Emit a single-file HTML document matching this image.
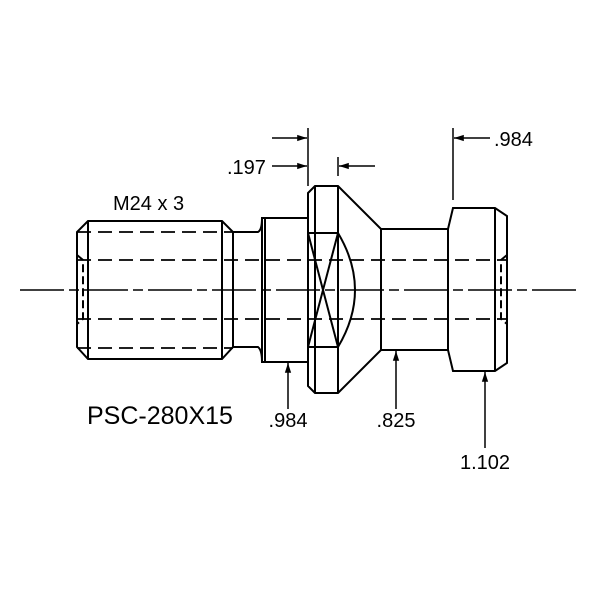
<!DOCTYPE html>
<html><head><style>body{margin:0;background:#fff}</style></head><body>
<svg width="600" height="600" viewBox="0 0 600 600" xmlns="http://www.w3.org/2000/svg" font-family="Liberation Sans, sans-serif">
<defs><marker id="a" viewBox="0 0 14 10" refX="14" refY="5" markerWidth="14" markerHeight="7" orient="auto-start-reverse" markerUnits="userSpaceOnUse"><path d="M0,0.5 L14,5 L0,9.5z" fill="#000"/></marker></defs>
<rect width="600" height="600" fill="#fff"/>
<g stroke="#000" stroke-width="2" fill="none">
<line x1="20" y1="290" x2="580" y2="290" stroke-width="1.5" stroke-dasharray="44,5,10,5"/>
<path d="M88,221 L222,221 L233,232 L233,347 L222,359 L88,359 L77,347 L77,232 Z"/>
<line x1="88" y1="221" x2="88" y2="359"/><line x1="222" y1="221" x2="222" y2="359"/>
<path d="M77,255 L83,260 L83,319 L77,324" stroke-dasharray="8,4"/>
<path d="M233,232 L258,232 Q262,230 262,218 L308,218 M233,347 L258,347 Q262,350 262,362 L308,362"/>
<line x1="262" y1="218" x2="262" y2="362"/><line x1="265" y1="218" x2="265" y2="362"/>
<path d="M308,193 L315,186 L338,186 L381,229 L448,229 L453,208 L495,208 L507,216 L507,363 L495,371 L453,371 L448,350 L381,350 L338,393 L315,393 L308,386 Z"/>
<line x1="308" y1="193" x2="308" y2="386"/>
<line x1="315" y1="186" x2="315" y2="393"/><line x1="338" y1="186" x2="338" y2="393"/>
<line x1="308" y1="233" x2="338" y2="233"/><line x1="308" y1="347" x2="338" y2="347"/>
<line x1="308" y1="233" x2="338" y2="347"/><line x1="338" y1="233" x2="308" y2="347"/>
<path d="M338,233 Q372,290 338,347"/>
<line x1="381" y1="229" x2="381" y2="350"/><line x1="448" y1="229" x2="448" y2="350"/>
<line x1="495" y1="208" x2="495" y2="371"/>
<path d="M507,255 L501,260 L501,319 L507,324" stroke-dasharray="8,4"/>
<g stroke-dasharray="14,7" stroke-width="1.8">
<line x1="77" y1="232" x2="233" y2="232"/><line x1="77" y1="348" x2="233" y2="348"/>
<line x1="77" y1="260" x2="507" y2="260"/><line x1="77" y1="319" x2="507" y2="319"/>
</g>
<g stroke-width="1.5">
<line x1="308" y1="128" x2="308" y2="186"/><line x1="338" y1="157" x2="338" y2="176"/>
<line x1="272" y1="138" x2="307" y2="138" marker-end="url(#a)"/>
<line x1="272" y1="166" x2="307" y2="166" marker-end="url(#a)"/>
<line x1="375" y1="166" x2="339" y2="166" marker-end="url(#a)"/>
<line x1="453" y1="128" x2="453" y2="200"/>
<line x1="490" y1="138" x2="454" y2="138" marker-end="url(#a)"/>
<line x1="288" y1="409" x2="288" y2="363" marker-end="url(#a)"/>
<line x1="396" y1="409" x2="396" y2="351" marker-end="url(#a)"/>
<line x1="485" y1="448" x2="485" y2="372" marker-end="url(#a)"/>
</g>
</g>
<g font-size="20" fill="#000">
<text x="227" y="174">.197</text>
<text x="494" y="146">.984</text>
<text x="113" y="210">M24 x 3</text>
<text x="288" y="427" text-anchor="middle">.984</text>
<text x="396" y="427" text-anchor="middle">.825</text>
<text x="485" y="469" text-anchor="middle">1.102</text>
<text x="87" y="424" font-size="25">PSC-280X15</text>
</g>
</svg>
</body></html>
